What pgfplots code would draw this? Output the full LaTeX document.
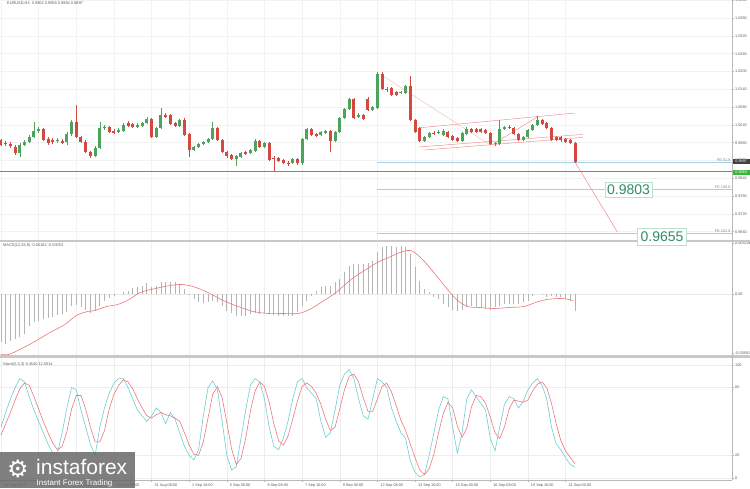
\documentclass[border=0pt]{standalone}
\usepackage{fontspec}
\setmainfont{Liberation Sans}
\newfontfamily\symfont{DejaVu Sans}
\usepackage{pgfplots}
\usepackage{pgfplotstable}
\pgfplotsset{compat=1.18}

\definecolor{bull}{RGB}{76,163,92}
\definecolor{bear}{RGB}{212,72,64}
\definecolor{lvlgreen}{RGB}{56,182,60}
\definecolor{feblue}{RGB}{165,208,228}
\definecolor{fetext}{RGB}{95,140,170}
\definecolor{chan}{RGB}{238,140,140}
\definecolor{chanlt}{RGB}{244,180,180}
\definecolor{sigred}{RGB}{236,120,120}
\definecolor{kcyan}{RGB}{110,205,210}
\definecolor{histgray}{RGB}{180,180,180}
\definecolor{labgray}{RGB}{90,90,90}
\definecolor{sepgray}{RGB}{200,200,200}
\definecolor{boxtext}{RGB}{52,140,100}
\definecolor{boxline}{RGB}{190,225,205}
\definecolor{logogray}{RGB}{105,105,105}

\newcommand{\tickfont}{\fontsize{3.8}{4.5}\selectfont}

% EURUSD H4 candles: bar index, open, high, low, close
\pgfplotstableread{
i o h l c
4 0.9925 0.9959 0.9912 0.9952
5 0.9952 0.9969 0.9949 0.9962
6 0.9962 0.9986 0.9959 0.9979
7 0.9979 1.0030 0.9976 0.9999
8 0.9999 1.0013 0.9993 1.0006
12 0.9966 0.9976 0.9959 0.9969
14 0.9962 0.9996 0.9952 0.9989
15 0.9989 1.0037 0.9983 1.0030
20 0.9915 0.9949 0.9912 0.9942
21 0.9942 1.0030 0.9939 1.0010
22 1.0010 1.0020 1.0003 1.0013
25 0.9996 1.0010 0.9993 1.0003
26 1.0001 1.0026 0.9996 1.0020
29 1.0016 1.0026 1.0010 1.0020
30 1.0016 1.0030 1.0013 1.0026
31 1.0026 1.0047 1.0023 1.0040
33 0.9979 1.0013 0.9976 1.0010
34 1.0010 1.0077 1.0006 1.0053
38 1.0016 1.0040 1.0013 1.0037
41 0.9936 0.9949 0.9932 0.9946
42 0.9946 0.9959 0.9942 0.9956
43 0.9956 0.9966 0.9952 0.9962
44 0.9962 0.9976 0.9959 0.9973
45 0.9973 1.0030 0.9969 1.0010
50 0.9905 0.9919 0.9882 0.9915
51 0.9912 0.9929 0.9909 0.9925
53 0.9925 0.9939 0.9922 0.9936
54 0.9932 0.9973 0.9929 0.9966
56 0.9946 0.9962 0.9942 0.9959
62 0.9892 0.9909 0.9888 0.9905
64 0.9892 0.9976 0.9885 0.9973
65 0.9973 1.0010 0.9969 1.0006
68 0.9986 0.9999 0.9983 0.9996
69 0.9993 1.0003 0.9989 0.9999
71 0.9966 0.9999 0.9962 0.9996
72 0.9996 1.0047 0.9993 1.0043
73 1.0043 1.0077 1.0040 1.0074
74 1.0074 1.0111 1.0070 1.0107
76 1.0047 1.0060 1.0043 1.0053
79 1.0070 1.0084 1.0067 1.0080
80 1.0077 1.0199 1.0074 1.0192
85 1.0128 1.0134 1.0124 1.0131
86 1.0128 1.0155 1.0124 1.0151
90 0.9966 0.9983 0.9962 0.9979
91 0.9979 0.9996 0.9976 0.9993
93 0.9993 1.0003 0.9989 0.9996
94 0.9986 1.0006 0.9983 0.9999
98 0.9966 0.9996 0.9962 0.9993
99 0.9989 1.0013 0.9986 1.0006
105 0.9956 0.9962 0.9949 0.9959
106 0.9956 1.0037 0.9952 1.0006
107 1.0006 1.0016 1.0003 1.0013
111 0.9969 0.9983 0.9966 0.9979
112 0.9979 1.0006 0.9976 1.0003
113 1.0003 1.0023 0.9999 1.0020
114 1.0020 1.0050 1.0016 1.0037
}\candleup

\pgfplotstableread{
i o h l c
0 0.9969 0.9973 0.9949 0.9952
1 0.9959 0.9966 0.9949 0.9956
2 0.9956 0.9962 0.9942 0.9949
3 0.9946 0.9952 0.9919 0.9925
9 1.0006 1.0010 0.9966 0.9969
10 0.9973 0.9979 0.9952 0.9959
11 0.9969 0.9976 0.9956 0.9962
13 0.9966 0.9973 0.9956 0.9962
16 1.0030 1.0087 0.9976 0.9979
17 0.9979 0.9983 0.9959 0.9962
18 0.9962 0.9969 0.9925 0.9929
19 0.9929 0.9932 0.9909 0.9915
23 1.0013 1.0016 0.9993 0.9996
24 0.9999 1.0006 0.9989 0.9996
27 1.0026 1.0033 1.0013 1.0016
28 1.0023 1.0026 1.0010 1.0013
32 1.0040 1.0043 0.9976 0.9979
35 1.0053 1.0060 1.0043 1.0050
36 1.0053 1.0057 1.0020 1.0023
37 1.0026 1.0030 1.0013 1.0016
39 1.0037 1.0043 0.9983 0.9986
40 0.9989 0.9993 0.9912 0.9936
46 1.0010 1.0013 0.9966 0.9969
47 0.9969 0.9973 0.9925 0.9929
48 0.9929 0.9932 0.9909 0.9915
49 0.9919 0.9922 0.9902 0.9905
52 0.9929 0.9932 0.9919 0.9925
55 0.9966 0.9969 0.9942 0.9946
57 0.9959 0.9962 0.9899 0.9902
58 0.9909 0.9915 0.9865 0.9905
59 0.9909 0.9912 0.9895 0.9899
60 0.9902 0.9905 0.9888 0.9892
61 0.9892 0.9899 0.9882 0.9888
63 0.9905 0.9909 0.9885 0.9892
66 1.0006 1.0010 0.9983 0.9986
67 0.9989 0.9993 0.9979 0.9983
70 0.9999 1.0003 0.9929 0.9966
75 1.0107 1.0111 1.0040 1.0043
77 1.0053 1.0057 1.0037 1.0040
78 1.0107 1.0114 1.0067 1.0070
81 1.0192 1.0199 1.0138 1.0141
82 1.0141 1.0148 1.0131 1.0138
83 1.0144 1.0148 1.0118 1.0121
84 1.0131 1.0134 1.0118 1.0121
87 1.0151 1.0185 1.0033 1.0037
88 1.0037 1.0040 0.9993 0.9996
89 1.0010 1.0013 0.9962 0.9966
92 0.9994 0.9999 0.9986 0.9991
95 0.9996 0.9999 0.9976 0.9979
96 0.9983 0.9986 0.9966 0.9969
97 0.9976 0.9979 0.9962 0.9966
100 1.0006 1.0010 0.9993 0.9996
101 1.0006 1.0010 0.9993 0.9996
102 1.0006 1.0010 0.9993 0.9996
103 1.0003 1.0006 0.9989 0.9993
104 0.9993 0.9996 0.9952 0.9956
108 1.0013 1.0020 1.0006 1.0010
109 1.0010 1.0013 0.9986 0.9989
110 0.9989 0.9993 0.9966 0.9969
115 1.0037 1.0040 1.0020 1.0023
116 1.0026 1.0030 1.0006 1.0010
117 1.0010 1.0013 0.9966 0.9969
118 0.9979 0.9983 0.9966 0.9969
119 0.9979 0.9983 0.9962 0.9969
120 0.9973 0.9976 0.9959 0.9962
121 0.9969 0.9973 0.9956 0.9959
122 0.9959 0.9962 0.9892 0.9895
}\candledn

\pgfplotsset{
  mtpanel/.style={
    scale only axis, width=732pt,
    xmin=-0.2125, xmax=155.37,
    anchor=south west,
    axis line style={draw=none},
    xtick={0,8,...,120},
    xmajorgrids, ymajorgrids,
    grid style={gray!10, line width=0.4pt},
    ytick pos=right, yticklabel pos=right,
    xtick pos=bottom, xticklabel pos=bottom,
    scaled y ticks=false,
    tick align=outside, major tick length=2pt,
    tick style={gray!60, line width=0.4pt},
    yticklabel style={font=\tickfont, text=labgray, inner sep=1pt},
    xticklabel style={font=\tickfont, text=labgray},
  },
  wick/.style={draw=none, mark=none, forget plot,
    error bars/.cd, y dir=both, y explicit, error mark=none,
    error bar style={draw=#1, line width=0.6pt}},
  body/.style={draw=none, mark=none, forget plot,
    error bars/.cd, y dir=both, y explicit, error mark=none,
    error bar style={draw=#1, line width=3pt}},
}

\begin{document}
\begin{tikzpicture}
\useasboundingbox (0,0) rectangle (750pt,488pt);

% ---------------- price panel ----------------
\begin{axis}[mtpanel, at={(0pt,248pt)}, height=240pt,
  ymin=0.9632, ymax=1.0441,
  ytick={0.9660,0.9720,0.9780,0.9840,0.9900,0.9960,1.0020,1.0080,1.0140,1.0200,1.0260,1.0320,1.0380,1.0440},
  yticklabels={0.9660,0.9720,0.9780,0.9840,0.9900,0.9960,1.0020,1.0080,1.0140,1.0200,1.0260,1.0320,1.0380,1.0440},
  xticklabels={}, xtick style={draw=none},
]
  % support and Fibonacci expansion levels
  \addplot[color=lvlgreen, line width=1.3pt] coordinates {(-0.2125,0.9863) (155.37,0.9863)};
  \addplot[draw=feblue, line width=0.5pt] coordinates {(80,0.9894) (155.37,0.9894)};
  \addplot[draw=feblue, line width=0.5pt] coordinates {(80,0.9803) (155.37,0.9803)};
  \addplot[draw=feblue, line width=0.5pt] coordinates {(80,0.9655) (155.37,0.9655)};
  % channel and projection
  \addplot[draw=chanlt, line width=0.4pt] coordinates {(80.5,1.0192) (104,0.9952)};
  \addplot[draw=chan, line width=0.45pt] coordinates {(88.8,1.0010) (122,1.0060)};
  \addplot[draw=chan, line width=0.45pt] coordinates {(90.1,0.99355) (123.7,0.9978)};
  \addplot[draw=chan, line width=0.45pt] coordinates {(88.8,0.99455) (123.7,0.9988)};
  \addplot[draw=chan, line width=0.45pt] coordinates {(105,0.9959) (114,1.0047)};
  \addplot[draw=chan, line width=0.5pt] coordinates {(122,0.9895) (131,0.9659)};
  % candles
  \addplot[wick=bull] table[x=i, y expr={(\thisrow{h}+\thisrow{l})/2},
    y error expr={(\thisrow{h}-\thisrow{l})/2}] {\candleup};
  \addplot[wick=bear] table[x=i, y expr={(\thisrow{h}+\thisrow{l})/2},
    y error expr={(\thisrow{h}-\thisrow{l})/2}] {\candledn};
  \addplot[body=bull] table[x=i, y expr={(\thisrow{o}+\thisrow{c})/2},
    y error expr={max(abs(\thisrow{c}-\thisrow{o})/2,0.00012)}] {\candleup};
  \addplot[body=bear] table[x=i, y expr={(\thisrow{o}+\thisrow{c})/2},
    y error expr={max(abs(\thisrow{c}-\thisrow{o})/2,0.00012)}] {\candledn};
  \node[font=\tickfont, text=fetext, anchor=south east, inner sep=0.6pt] at (axis cs:155.2,0.9894) {FE 61.8};
  \node[font=\tickfont, text=fetext, anchor=south east, inner sep=0.6pt] at (axis cs:155.2,0.9803) {FE 100.0};
  \node[font=\tickfont, text=fetext, anchor=south east, inner sep=0.6pt] at (axis cs:155.2,0.9655) {FE 161.8};
\end{axis}

% ---------------- MACD panel ----------------
\begin{axis}[mtpanel, at={(0pt,133pt)}, height=113pt,
  ymin=-0.00605, ymax=0.00525, ymajorgrids=false,
  ytick={-0.0059,0,0.0051}, yticklabels={-0.00591,0.00,0.005106},
  xticklabels={}, xtick style={draw=none},
]
  \addplot[draw=gray!18, line width=0.4pt] coordinates {(-0.2125,0) (155.37,0)};
  \addplot[ycomb, draw=histgray, line width=0.8pt, mark=none] coordinates {
    (0,-0.0048)(1,-0.0050)(2,-0.0047)(3,-0.0045)(4,-0.0043)(5,-0.0040)(6,-0.0032)(7,-0.0028)(8,-0.0027)(9,-0.0025)
    (10,-0.0024)(11,-0.0023)(12,-0.0021)(13,-0.0020)(14,-0.0018)(15,-0.0012)(16,-0.0011)(17,-0.0013)(18,-0.0016)(19,-0.0019)
    (20,-0.0017)(21,-0.0012)(22,-0.0007)(23,-0.0004)(24,-0.0002)(25,0.0000)(26,0.0002)(27,0.0003)(28,0.0006)(29,0.0007)
    (30,0.0008)(31,0.0011)(32,0.0007)(33,0.0008)(34,0.0012)(35,0.0012)(36,0.0012)(37,0.0012)(38,0.0010)(39,0.0005)
    (40,-0.0001)(41,-0.0005)(42,-0.0008)(43,-0.0009)(44,-0.0008)(45,-0.0007)(46,-0.0008)(47,-0.0012)(48,-0.0017)(49,-0.0019)
    (50,-0.0022)(51,-0.0022)(52,-0.0022)(53,-0.0020)(54,-0.0019)(55,-0.0020)(56,-0.0019)(57,-0.0020)(58,-0.0021)(59,-0.0022)
    (60,-0.0022)(61,-0.0022)(62,-0.0022)(63,-0.0018)(64,-0.0012)(65,-0.0007)(66,-0.0002)(67,0.0003)(68,0.0007)(69,0.0008)
    (70,0.0008)(71,0.0012)(72,0.0015)(73,0.0022)(74,0.0028)(75,0.0030)(76,0.0030)(77,0.0030)(78,0.0031)(79,0.0033)
    (80,0.0042)(81,0.0047)(82,0.0048)(83,0.0048)(84,0.0047)(85,0.0048)(86,0.0047)(87,0.0040)(88,0.0027)(89,0.0013)
    (90,0.0005)(91,0.0002)(92,-0.0003)(93,-0.0005)(94,-0.0010)(95,-0.0013)(96,-0.0016)(97,-0.0017)(98,-0.0016)(99,-0.0013)
    (100,-0.0012)(101,-0.0013)(102,-0.0014)(103,-0.0015)(104,-0.0016)(105,-0.0013)(106,-0.0012)(107,-0.0010)(108,-0.0010)(109,-0.0010)
    (110,-0.0010)(111,-0.0008)(112,-0.0007)(113,-0.0002)(114,0.0000)(115,-0.0001)(116,-0.0003)(117,-0.0002)(118,-0.0003)(119,-0.0003)
    (120,-0.0005)(121,-0.0007)(122,-0.0017)};
  \addplot[draw=sigred, line width=0.6pt, smooth, mark=none] coordinates {
    (0,-0.0060)(1.6,-0.0060)(4,-0.0055)(7.2,-0.0047)(10.4,-0.0038)(13.6,-0.0030)(16,-0.0021)(18.4,-0.0017)
    (20,-0.0016)(22.4,-0.0012)(24.8,-0.0010)(27.2,-0.0005)(29.6,0.0002)(32.8,0.0006)(36,0.0009)(38.4,0.0010)
    (40.8,0.0008)(44,0.0002)(47.2,-0.0006)(50.4,-0.0012)(53.6,-0.0017)(56.8,-0.0019)(60,-0.0019)(63.2,-0.0019)
    (65.6,-0.0015)(68,-0.0008)(71.2,0.0002)(74.4,0.0015)(77.6,0.0025)(80,0.0032)(82.4,0.0037)(84.8,0.0042)
    (86.4,0.0044)(87.6,0.0043)(89.6,0.0035)(92,0.0022)(94.4,0.0008)(96.8,-0.0005)(99.2,-0.0012)(101.6,-0.0013)
    (104.8,-0.0014)(108,-0.0013)(111.2,-0.0012)(113.6,-0.0008)(116,-0.0005)(119.2,-0.0004)(121.6,-0.0006)};
\end{axis}

% ---------------- Stochastic panel ----------------
\begin{axis}[mtpanel, at={(0pt,8pt)}, height=122pt,
  ymin=-1.8, ymax=106.2, ytick={0,20,80,100}, yticklabels={0,20,80,100},
  grid style={gray!14, line width=0.4pt},
  xticklabels={24 Aug 2022,25 Aug 08:00,26 Aug 16:00,30 Aug 00:00,31 Aug 08:00,1 Sep 16:00,5 Sep 00:00,6 Sep 08:00,7 Sep 16:00,9 Sep 00:00,12 Sep 08:00,13 Sep 16:00,15 Sep 00:00,16 Sep 08:00,19 Sep 16:00,21 Sep 00:00},
  xticklabel style={anchor=north west, xshift=-0.5pt, yshift=1.2pt},
]
  \addplot[draw=kcyan, line width=0.6pt, mark=none] coordinates {
    (0,45)(1,58)(2,70)(3,80)(4,88)(5,85)(6,72)(7,60)(8,50)(9,40)(10,30)(11,22)(12,22)(13,40)(14,62)(15,80)(16,78)(17,60)(18,45)(19,30)
    (20,20)(21,45)(22,62)(23,75)(24,84)(25,88)(26,88)(27,80)(28,70)(29,60)(30,55)(31,50)(32,55)(33,62)(34,58)(35,48)(36,58)(37,52)(38,40)(39,28)
    (40,20)(41,16)(42,25)(43,55)(44,80)(45,86)(46,78)(47,50)(48,20)(49,7)(50,10)(51,35)(52,60)(53,82)(54,88)(55,85)(56,70)(57,45)(58,28)(59,25)
    (60,35)(61,50)(62,70)(63,85)(64,88)(65,80)(66,75)(67,70)(68,50)(69,36)(70,40)(71,60)(72,82)(73,92)(74,96)(75,88)(76,70)(77,55)(78,52)(79,70)
    (80,88)(81,85)(82,80)(83,62)(84,50)(85,40)(86,35)(87,15)(88,5)(89,1)(90,3)(91,20)(92,40)(93,60)(94,72)(95,70)(96,45)(97,22)(98,40)(99,70)
    (100,78)(101,72)(102,66)(103,60)(104,35)(105,24)(106,45)(107,65)(108,72)(109,70)(110,62)(111,68)(112,78)(113,84)(114,88)(115,82)(116,70)(117,45)(118,30)(119,25)
    (120,18)(121,12)(122,9.5)};
  \addplot[draw=sigred, line width=0.6pt, mark=none] coordinates {
    (0,38)(1,48)(2,58)(3,69)(4,79)(5,84)(6,82)(7,72)(8,61)(9,50)(10,40)(11,31)(12,25)(13,28)(14,41)(15,61)(16,73)(17,73)(18,61)(19,45)
    (20,32)(21,32)(22,42)(23,61)(24,74)(25,82)(26,87)(27,85)(28,79)(29,70)(30,62)(31,55)(32,53)(33,56)(34,58)(35,56)(36,55)(37,53)(38,50)(39,40)
    (40,29)(41,21)(42,20)(43,32)(44,53)(45,74)(46,81)(47,71)(48,49)(49,26)(50,12)(51,17)(52,35)(53,59)(54,77)(55,85)(56,81)(57,67)(58,48)(59,33)
    (60,29)(61,37)(62,52)(63,68)(64,81)(65,84)(66,81)(67,75)(68,65)(69,52)(70,42)(71,45)(72,61)(73,78)(74,90)(75,92)(76,85)(77,71)(78,59)(79,59)
    (80,70)(81,81)(82,84)(83,76)(84,64)(85,51)(86,42)(87,30)(88,18)(89,7)(90,3)(91,8)(92,21)(93,40)(94,57)(95,67)(96,62)(97,46)(98,36)(99,44)
    (100,63)(101,73)(102,72)(103,66)(104,54)(105,40)(106,35)(107,45)(108,61)(109,69)(110,68)(111,67)(112,69)(113,77)(114,83)(115,85)(116,80)(117,66)(118,48)(119,33)
    (120,24)(121,18)(122,12.5)};
\end{axis}

% panel frames and separators
\fill[sepgray] (0,246pt) rectangle (750pt,248pt);
\fill[sepgray] (0,130pt) rectangle (750pt,133pt);
\draw[gray!55, line width=0.5pt] (732pt,8pt) -- (732pt,488pt);
\draw[gray!55, line width=0.5pt] (0,8pt) -- (732pt,8pt);

% indicator captions
\node[anchor=north west, font=\fontsize{3.9}{4.5}\selectfont, text=labgray, inner sep=0pt] at (7pt,486pt) {EURUSD,H4 \ 0.9902 0.9908 0.9884 0.9897};
\node[anchor=north west, font=\fontsize{3.9}{4.5}\selectfont, text=labgray, inner sep=0pt] at (3pt,244.5pt) {MACD(12,26,9) -0.00162 -0.00053};
\node[anchor=north west, font=\fontsize{3.9}{4.5}\selectfont, text=labgray, inner sep=0pt] at (3pt,125.5pt) {Stoch(5,3,3) 9.4540 12.5014};

% price tags on the scale
\node[anchor=west, fill=black!75, text=white, font=\tickfont, inner sep=0.8pt, minimum width=17pt] at (732.5pt,326.5pt) {0.9897};
\node[anchor=west, fill=lvlgreen, text=white, font=\tickfont, inner sep=0.8pt, minimum width=17pt] at (732.5pt,315.5pt) {0.9863};

% target boxes
\node[draw=boxline, fill=white, text=boxtext, font=\fontsize{14}{14}\selectfont, inner sep=1pt, minimum width=47pt, minimum height=15pt] at (628.5pt,298.5pt) {0.9803};
\node[draw=boxline, fill=white, text=boxtext, font=\fontsize{14}{14}\selectfont, inner sep=1pt, minimum width=49pt, minimum height=17pt] at (662pt,251pt) {0.9655};

% watermark
\fill[logogray, opacity=0.85] (0,0) rectangle (135pt,36pt);
\node[text=white, font=\symfont\fontsize{24}{24}\selectfont, inner sep=0pt] at (18pt,19pt) {⚙};
\node[anchor=base west, text=white, font=\fontsize{21}{21}\selectfont, inner sep=0pt] at (36pt,14pt) {instaforex};
\node[anchor=base west, text=white, font=\fontsize{8}{8}\selectfont, inner sep=0pt] at (36.5pt,3pt) {Instant Forex Trading};
\end{tikzpicture}
\end{document}
